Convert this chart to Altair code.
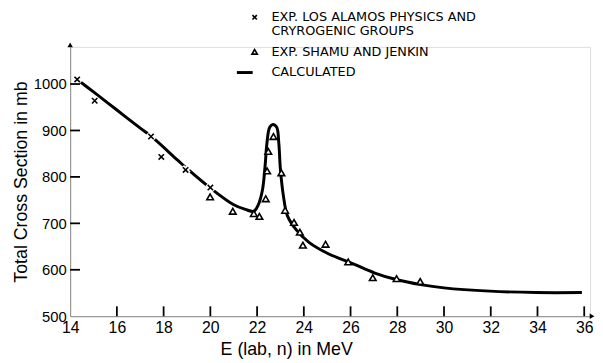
import altair as alt
import pandas as pd

# Los Alamos (x marks)
lanl_e = [14.3, 15.05, 17.46, 17.9, 18.94, 20.0]
lanl_s = [1010, 964, 887, 843, 815, 777]
# Shamu and Jenkin (triangles)
sj_e = [19.99, 20.96, 21.86, 22.1, 22.37, 22.43, 22.48, 22.7, 23.04, 23.2,
        23.58, 23.83, 23.96, 24.93, 25.9, 26.95, 27.97, 28.98]
sj_s = [757, 726, 721, 715, 753, 813, 855, 887, 809, 728,
        702, 681, 653, 655, 617, 583, 581, 575]
# Calculated curve
calc_e = [14.3, 15.0, 16.0, 17.0, 17.5, 18.6, 19.0, 20.0, 21.0, 21.5, 21.86,
          22.05, 22.23, 22.34, 22.42, 22.54, 22.68, 22.84, 22.93, 23.0, 23.13,
          23.3, 23.66, 24.22, 25.07, 26.06, 27.04, 27.95, 29.0, 30.0, 31.96,
          33.93, 35.9]
calc_s = [1010, 983, 944, 905, 886, 836, 818, 776, 740, 730, 726,
          740, 772, 822, 872, 907, 913, 907, 872, 815, 758,
          716, 687, 659, 634, 614, 593, 579, 568, 561, 554,
          551, 551]
x_ticks = [14, 16, 18, 20, 22, 24, 26, 28, 30, 32, 34, 36]
y_ticks = [500, 600, 700, 800, 900, 1000]

W, H = 527, 273
FONT = "DejaVu Sans"

lanl = pd.DataFrame({"E": lanl_e, "S": lanl_s})
sj = pd.DataFrame({"E": sj_e, "S": sj_s})
calc = pd.DataFrame({"E": calc_e, "S": calc_s})

xs = alt.Scale(domain=[14, 36.25], nice=False, zero=False)
ys = alt.Scale(domain=[500, 1080], nice=False, zero=False)

xaxis = alt.Axis(values=x_ticks, format="d", title="E (lab, n) in MeV", ticks=False, grid=False,
                 labelFontSize=16, titleFontSize=18, labelPadding=4, titlePadding=5,
                 titleFontWeight="normal", labelFlush=False, titleX=219)
yaxis = alt.Axis(values=y_ticks, format="d", title="Total Cross Section in mb", ticks=False,
                 grid=False, labelFontSize=15, titleFontSize=18, labelPadding=4, titlePadding=3,
                 titleFontWeight="normal", labelFlush=False)


def X(f="E"):
    return alt.X(f + ":Q", scale=xs, axis=xaxis)


def Y(f="S"):
    return alt.Y(f + ":Q", scale=ys, axis=yaxis)


curve = alt.Chart(calc).mark_line(color="black", strokeWidth=3,
                                  interpolate="catmull-rom").encode(x=X(), y=Y())

xshape = "M-1,-1L1,1M-1,1L1,-1"
lanl_halo = alt.Chart(lanl).mark_point(shape=xshape, size=45, filled=False, color="white",
                                       strokeWidth=5, opacity=1).encode(x=X(), y=Y())
lanl_pts = alt.Chart(lanl).mark_point(shape=xshape, size=30, filled=False, color="black",
                                      strokeWidth=1.6, opacity=1).encode(x=X(), y=Y())
sj_pts = alt.Chart(sj).mark_point(shape="triangle-up", size=45, fill="white", stroke="black",
                                  strokeWidth=1.6, opacity=1, fillOpacity=1).encode(x=X(), y=Y())

xt = pd.DataFrame({"t": x_ticks[1:]})
yt = pd.DataFrame({"t": y_ticks[1:]})
xtick_rules = alt.Chart(xt).mark_rule(color="black", strokeWidth=1.8).encode(
    x=X("t"), y=alt.value(H), y2=alt.value(H - 10))
ytick_rules = alt.Chart(yt).mark_rule(color="black", strokeWidth=1.8).encode(
    y=Y("t"), x=alt.value(0), x2=alt.value(10))

one = alt.Data(values=[{}])
arrow_y = alt.Chart(one).mark_point(shape="triangle-up", size=30, filled=True, color="black",
                                    opacity=1).encode(x=alt.value(0), y=alt.value(-2))
arrow_x = alt.Chart(one).mark_point(shape="triangle-right", size=30, filled=True, color="black",
                                    opacity=1).encode(x=alt.value(W + 2), y=alt.value(H))


def txt(s, x, y):
    return alt.Chart(one).mark_text(text=s, font=FONT, fontSize=13, align="left",
                                    baseline="middle", color="black").encode(
        x=alt.value(x), y=alt.value(y))


leg = [
    alt.Chart(one).mark_point(shape=xshape, size=20, filled=False, color="black",
                              strokeWidth=1.6, opacity=1).encode(x=alt.value(187), y=alt.value(-30)),
    txt("EXP. LOS ALAMOS PHYSICS AND", 204, -30),
    txt("CRYROGENIC GROUPS", 204, -16),
    alt.Chart(one).mark_point(shape="triangle-up", size=30, filled=False, color="black",
                              strokeWidth=1.6, opacity=1).encode(x=alt.value(187), y=alt.value(5)),
    txt("EXP. SHAMU AND JENKIN", 204, 5),
    alt.Chart(one).mark_rule(color="black", strokeWidth=3).encode(
        x=alt.value(169), x2=alt.value(185), y=alt.value(26)),
    txt("CALCULATED", 204, 26),
]

chart = alt.layer(curve, lanl_halo, lanl_pts, sj_pts, xtick_rules, ytick_rules,
                  arrow_y, arrow_x, *leg).properties(
    width=W, height=H,
    padding={"left": 63, "top": 37, "right": 5, "bottom": 45},
    autosize=alt.AutoSizeParams(type="none"),
).configure_view(stroke=None).configure_axis(
    domainColor="black", domainWidth=2, labelColor="black", titleColor="black",
    labelFont=FONT, titleFont=FONT,
).configure(background="white")

chart.save("out.html", embed_options={"renderer": "svg", "actions": False})
